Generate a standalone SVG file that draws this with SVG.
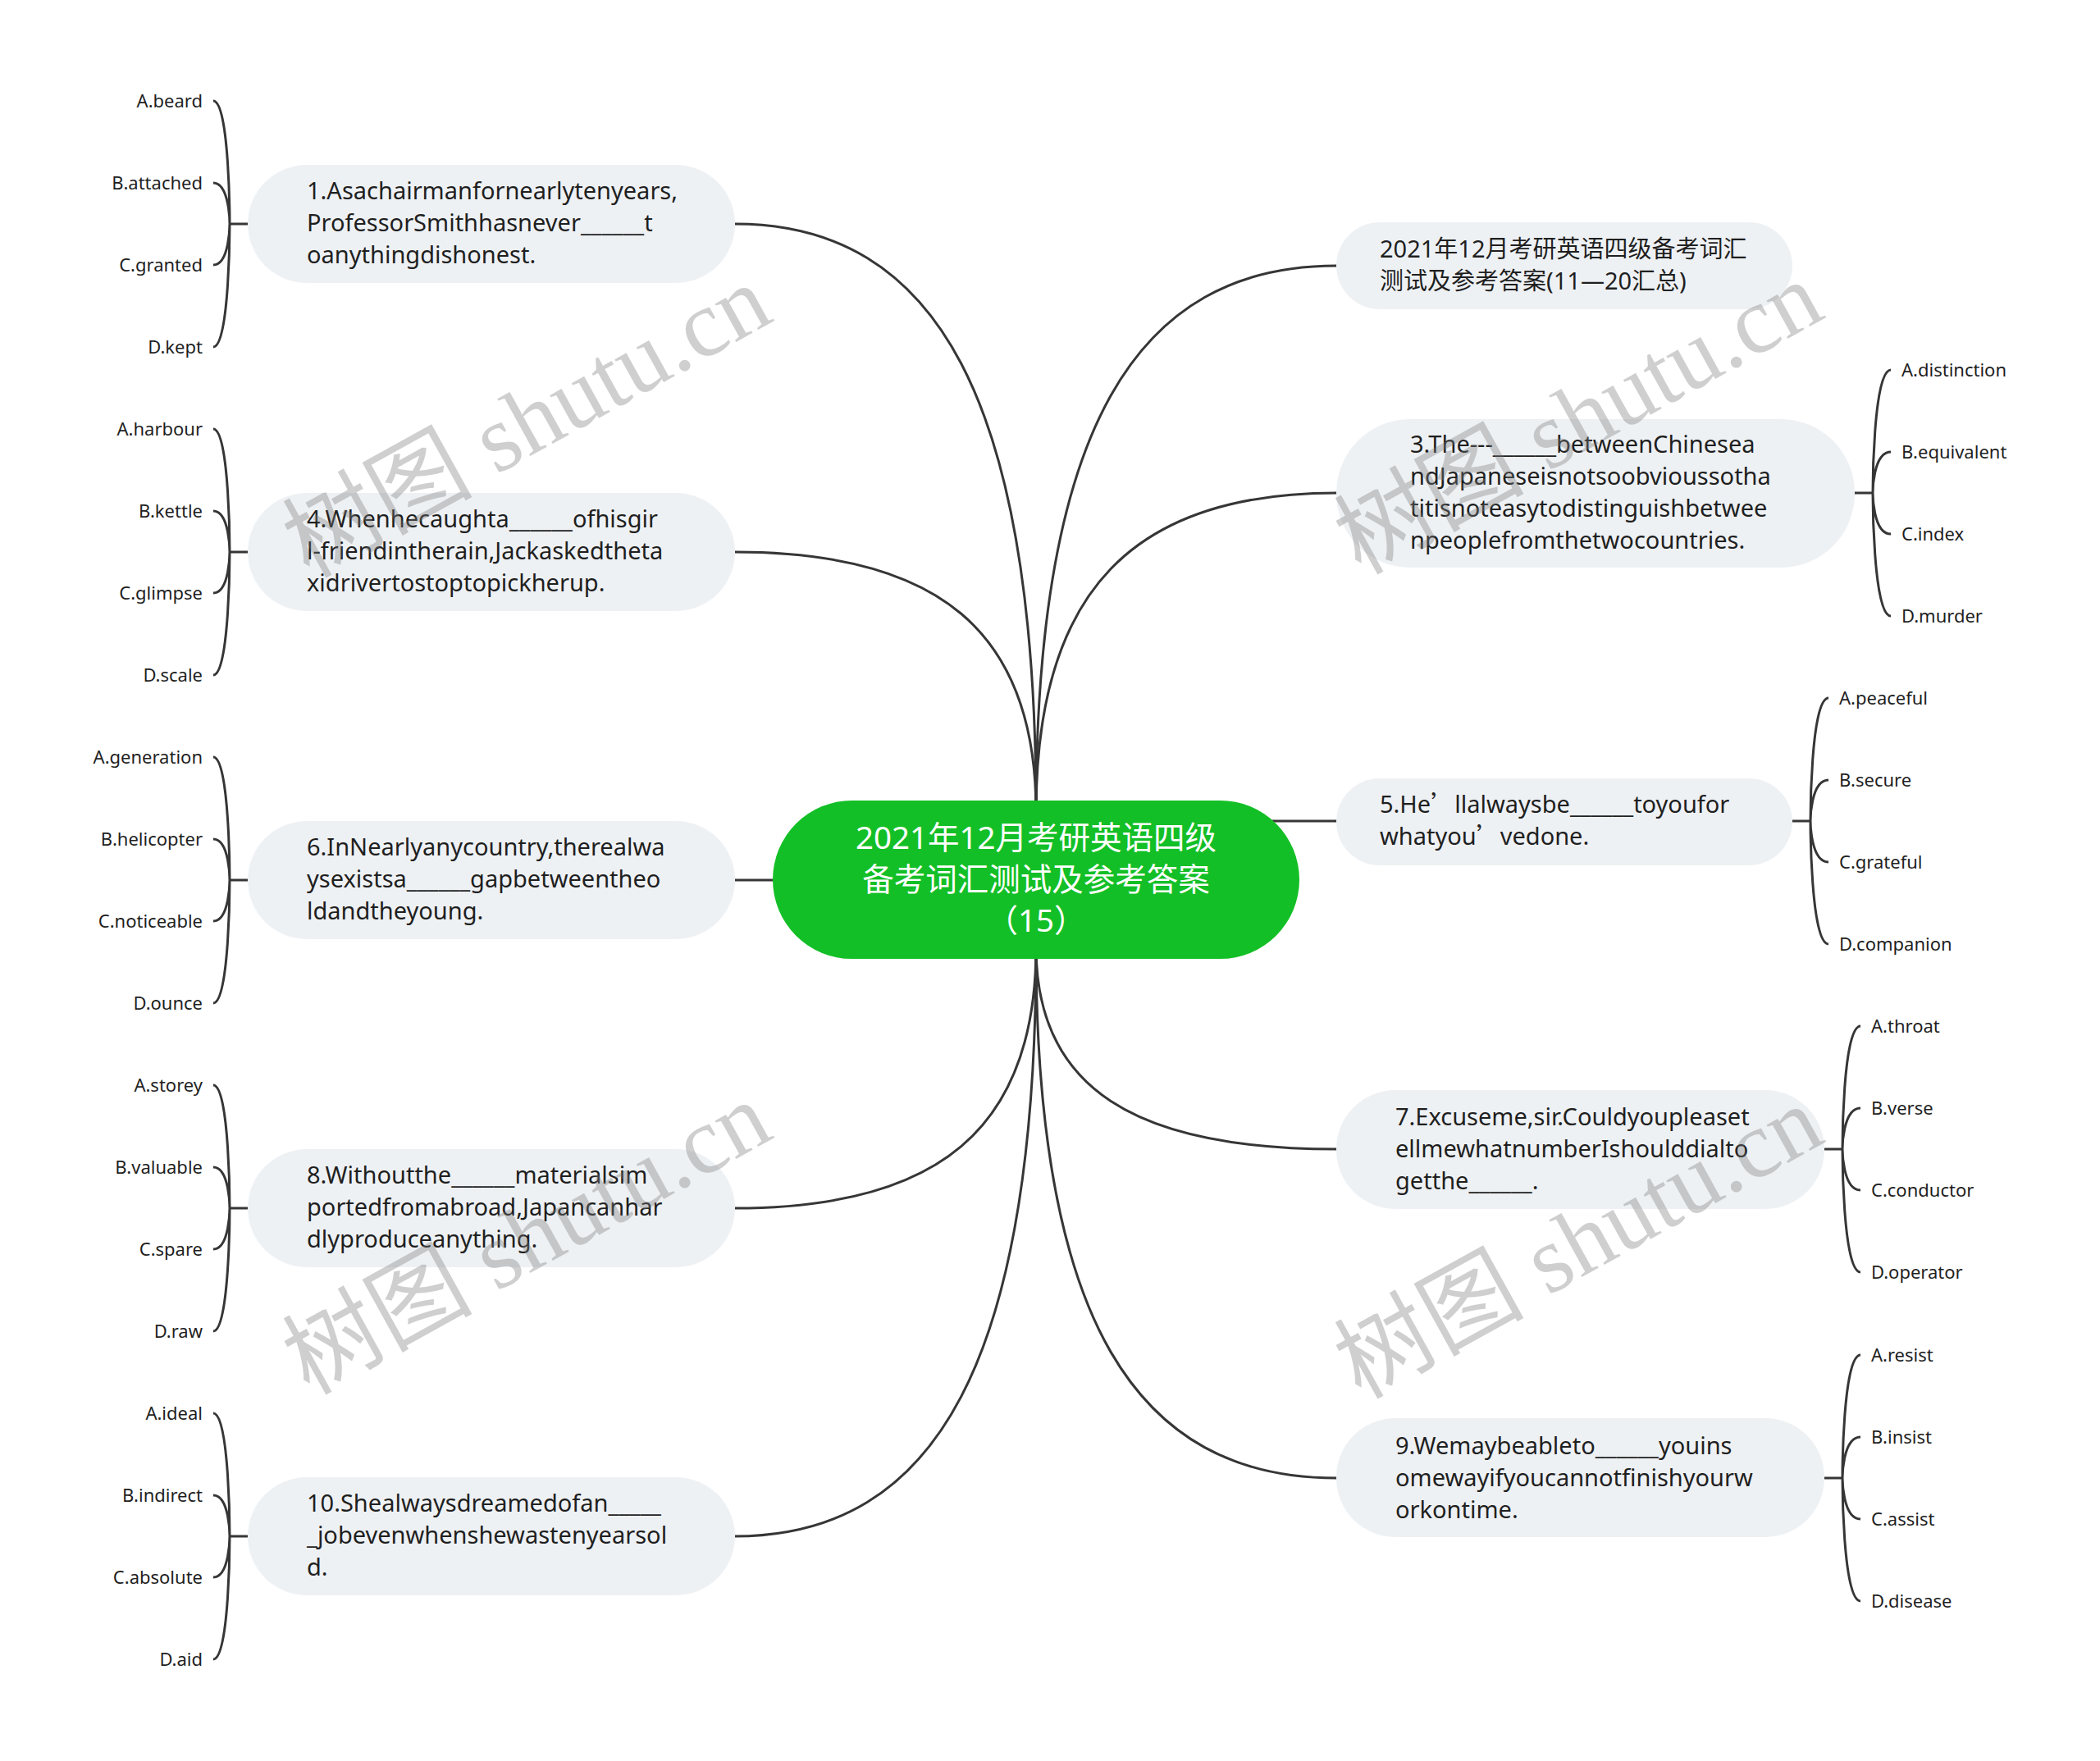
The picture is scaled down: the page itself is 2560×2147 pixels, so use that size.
<svg xmlns="http://www.w3.org/2000/svg" width="2560" height="2147" viewBox="0 0 2560 2147">
<style>
.bg{fill:#ffffff}
.node{fill:#eef1f4}
.root{fill:#13bf26}
.t{font-family:"Noto Sans","Noto Sans CJK SC",sans-serif;font-size:29px;fill:#1f1f1f}
.rt{font-family:"Noto Sans","Noto Sans CJK SC",sans-serif;font-size:38.5px;fill:#ffffff;text-anchor:middle}
.o{font-family:"Noto Sans",sans-serif;font-size:22px;fill:#1f1f1f}
.oe{text-anchor:end}
.c{fill:none;stroke:#363636;stroke-width:3}
.b{fill:none;stroke:#363636;stroke-width:3}
.cj{font-family:"Noto Sans CJK SC",sans-serif}
.wm{font-family:"Liberation Serif","Noto Sans CJK SC",serif;font-size:116px;fill:#7a7a7a;fill-opacity:0.36;text-anchor:middle}
</style>
<rect class="bg" x="0" y="0" width="2560" height="2147"/>
<g id="connectors">
<path class="c" d="M896,273 C1142,273 1263,488 1263,990"/>
<path class="c" d="M896,673 C1142,673 1263,768 1263,990"/>
<path class="c" d="M896,1073 L980,1073"/>
<path class="c" d="M896,1473 C1142,1473 1263,1378 1263,1155"/>
<path class="c" d="M896,1873 C1142,1873 1263,1658 1263,1155"/>
<path class="c" d="M1629,324 C1384,324 1263,524 1263,990"/>
<path class="c" d="M1629,601 C1384,601 1263,718 1263,990"/>
<path class="c" d="M1520,1001 L1629,1001"/>
<path class="c" d="M1629,1401 C1384,1401 1263,1327 1263,1155"/>
<path class="c" d="M1629,1802 C1384,1802 1263,1608 1263,1155"/>
<g>
<path class="b" d="M302,273 L280,273 M260,123 C280,123 280,273 280,273 M260,223 C280,223 280,273 280,273 M260,323 C280,323 280,273 280,273 M260,423 C280,423 280,273 280,273"/>
<path class="b" d="M302,673 L280,673 M260,523 C280,523 280,673 280,673 M260,623 C280,623 280,673 280,673 M260,723 C280,723 280,673 280,673 M260,823 C280,823 280,673 280,673"/>
<path class="b" d="M302,1073 L280,1073 M260,923 C280,923 280,1073 280,1073 M260,1023 C280,1023 280,1073 280,1073 M260,1123 C280,1123 280,1073 280,1073 M260,1223 C280,1223 280,1073 280,1073"/>
<path class="b" d="M302,1473 L280,1473 M260,1323 C280,1323 280,1473 280,1473 M260,1423 C280,1423 280,1473 280,1473 M260,1523 C280,1523 280,1473 280,1473 M260,1623 C280,1623 280,1473 280,1473"/>
<path class="b" d="M302,1873 L280,1873 M260,1723 C280,1723 280,1873 280,1873 M260,1823 C280,1823 280,1873 280,1873 M260,1923 C280,1923 280,1873 280,1873 M260,2023 C280,2023 280,1873 280,1873"/>
</g>
<g>
<path class="b" d="M2261,601 L2283,601 M2305,451 C2283,451 2283,601 2283,601 M2305,551 C2283,551 2283,601 2283,601 M2305,651 C2283,651 2283,601 2283,601 M2305,751 C2283,751 2283,601 2283,601"/>
<path class="b" d="M2185,1001 L2207,1001 M2229,851 C2207,851 2207,1001 2207,1001 M2229,951 C2207,951 2207,1001 2207,1001 M2229,1051 C2207,1051 2207,1001 2207,1001 M2229,1151 C2207,1151 2207,1001 2207,1001"/>
<path class="b" d="M2224,1401 L2246,1401 M2268,1251 C2246,1251 2246,1401 2246,1401 M2268,1351 C2246,1351 2246,1401 2246,1401 M2268,1451 C2246,1451 2246,1401 2246,1401 M2268,1551 C2246,1551 2246,1401 2246,1401"/>
<path class="b" d="M2224,1802 L2246,1802 M2268,1652 C2246,1652 2246,1802 2246,1802 M2268,1752 C2246,1752 2246,1802 2246,1802 M2268,1852 C2246,1852 2246,1802 2246,1802 M2268,1952 C2246,1952 2246,1802 2246,1802"/>
</g>
</g>
<g id="root">
<rect class="root" x="942" y="976" width="642" height="193" rx="96.5"/>
<text class="rt" x="1263" y="1035">2021年12月考研英语四级</text>
<text class="rt" x="1263" y="1086">备考词汇测试及参考答案</text>
<text class="rt" x="1263" y="1136">（15）</text>
</g>
<g id="n1">
<rect class="node" x="302" y="201" width="594" height="144" rx="72"/>
<text class="t" x="374" y="243">1.Asachairmanfornearlytenyears,</text>
<text class="t" x="374" y="282">ProfessorSmithhasnever______t</text>
<text class="t" x="374" y="321">oanythingdishonest.</text>
</g>
<g id="n1-opts">
<text class="o oe" x="247" y="131">A.beard</text>
<text class="o oe" x="247" y="231">B.attached</text>
<text class="o oe" x="247" y="331">C.granted</text>
<text class="o oe" x="247" y="431">D.kept</text>
</g>
<g id="n4">
<rect class="node" x="302" y="601" width="594" height="144" rx="72"/>
<text class="t" x="374" y="643">4.Whenhecaughta______ofhisgir</text>
<text class="t" x="374" y="682">l-friendintherain,Jackaskedtheta</text>
<text class="t" x="374" y="721">xidrivertostoptopickherup.</text>
</g>
<g id="n4-opts">
<text class="o oe" x="247" y="531">A.harbour</text>
<text class="o oe" x="247" y="631">B.kettle</text>
<text class="o oe" x="247" y="731">C.glimpse</text>
<text class="o oe" x="247" y="831">D.scale</text>
</g>
<g id="n6">
<rect class="node" x="302" y="1001" width="594" height="144" rx="72"/>
<text class="t" x="374" y="1043">6.InNearlyanycountry,therealwa</text>
<text class="t" x="374" y="1082">ysexistsa______gapbetweentheo</text>
<text class="t" x="374" y="1121">ldandtheyoung.</text>
</g>
<g id="n6-opts">
<text class="o oe" x="247" y="931">A.generation</text>
<text class="o oe" x="247" y="1031">B.helicopter</text>
<text class="o oe" x="247" y="1131">C.noticeable</text>
<text class="o oe" x="247" y="1231">D.ounce</text>
</g>
<g id="n8">
<rect class="node" x="302" y="1401" width="594" height="144" rx="72"/>
<text class="t" x="374" y="1443">8.Withoutthe______materialsim</text>
<text class="t" x="374" y="1482">portedfromabroad,Japancanhar</text>
<text class="t" x="374" y="1521">dlyproduceanything.</text>
</g>
<g id="n8-opts">
<text class="o oe" x="247" y="1331">A.storey</text>
<text class="o oe" x="247" y="1431">B.valuable</text>
<text class="o oe" x="247" y="1531">C.spare</text>
<text class="o oe" x="247" y="1631">D.raw</text>
</g>
<g id="n10">
<rect class="node" x="302" y="1801" width="594" height="144" rx="72"/>
<text class="t" x="374" y="1843">10.Shealwaysdreamedofan_____</text>
<text class="t" x="374" y="1882">_jobevenwhenshewastenyearsol</text>
<text class="t" x="374" y="1921">d.</text>
</g>
<g id="n10-opts">
<text class="o oe" x="247" y="1731">A.ideal</text>
<text class="o oe" x="247" y="1831">B.indirect</text>
<text class="o oe" x="247" y="1931">C.absolute</text>
<text class="o oe" x="247" y="2031">D.aid</text>
</g>
<g id="n2">
<rect class="node" x="1629" y="271" width="556" height="106" rx="53"/>
<text class="t" x="1682" y="314">2021年12月考研英语四级备考词汇</text>
<text class="t" x="1682" y="353">测试及参考答案(11—20汇总)</text>
</g>
<g id="n3">
<rect class="node" x="1629" y="511" width="632" height="181" rx="90"/>
<text class="t" x="1719" y="552">3.The---______betweenChinesea</text>
<text class="t" x="1719" y="591">ndJapaneseisnotsoobvioussotha</text>
<text class="t" x="1719" y="630">titisnoteasytodistinguishbetwee</text>
<text class="t" x="1719" y="669">npeoplefromthetwocountries.</text>
</g>
<g id="n3-opts">
<text class="o" x="2318" y="459">A.distinction</text>
<text class="o" x="2318" y="559">B.equivalent</text>
<text class="o" x="2318" y="659">C.index</text>
<text class="o" x="2318" y="759">D.murder</text>
</g>
<g id="n5">
<rect class="node" x="1629" y="949" width="556" height="106" rx="53"/>
<text class="t" x="1682" y="991">5.He<tspan class="cj">’</tspan>llalwaysbe______toyoufor</text>
<text class="t" x="1682" y="1030">whatyou<tspan class="cj">’</tspan>vedone.</text>
</g>
<g id="n5-opts">
<text class="o" x="2242" y="859">A.peaceful</text>
<text class="o" x="2242" y="959">B.secure</text>
<text class="o" x="2242" y="1059">C.grateful</text>
<text class="o" x="2242" y="1159">D.companion</text>
</g>
<g id="n7">
<rect class="node" x="1629" y="1329" width="595" height="145" rx="72"/>
<text class="t" x="1701" y="1372">7.Excuseme,sir.Couldyoupleaset</text>
<text class="t" x="1701" y="1411">ellmewhatnumberIshoulddialto</text>
<text class="t" x="1701" y="1450">getthe______.</text>
</g>
<g id="n7-opts">
<text class="o" x="2281" y="1259">A.throat</text>
<text class="o" x="2281" y="1359">B.verse</text>
<text class="o" x="2281" y="1459">C.conductor</text>
<text class="o" x="2281" y="1559">D.operator</text>
</g>
<g id="n9">
<rect class="node" x="1629" y="1729" width="595" height="145" rx="72"/>
<text class="t" x="1701" y="1773">9.Wemaybeableto______youins</text>
<text class="t" x="1701" y="1812">omewayifyoucannotfinishyourw</text>
<text class="t" x="1701" y="1851">orkontime.</text>
</g>
<g id="n9-opts">
<text class="o" x="2281" y="1660">A.resist</text>
<text class="o" x="2281" y="1760">B.insist</text>
<text class="o" x="2281" y="1860">C.assist</text>
<text class="o" x="2281" y="1960">D.disease</text>
</g>
<g id="watermarks">
<text class="wm" transform="translate(661,548) rotate(-29)">树图 shutu.cn</text>
<text class="wm" transform="translate(1943,544) rotate(-29)">树图 shutu.cn</text>
<text class="wm" transform="translate(661,1544) rotate(-29)">树图 shutu.cn</text>
<text class="wm" transform="translate(1943,1549) rotate(-29)">树图 shutu.cn</text>
</g>
</svg>
